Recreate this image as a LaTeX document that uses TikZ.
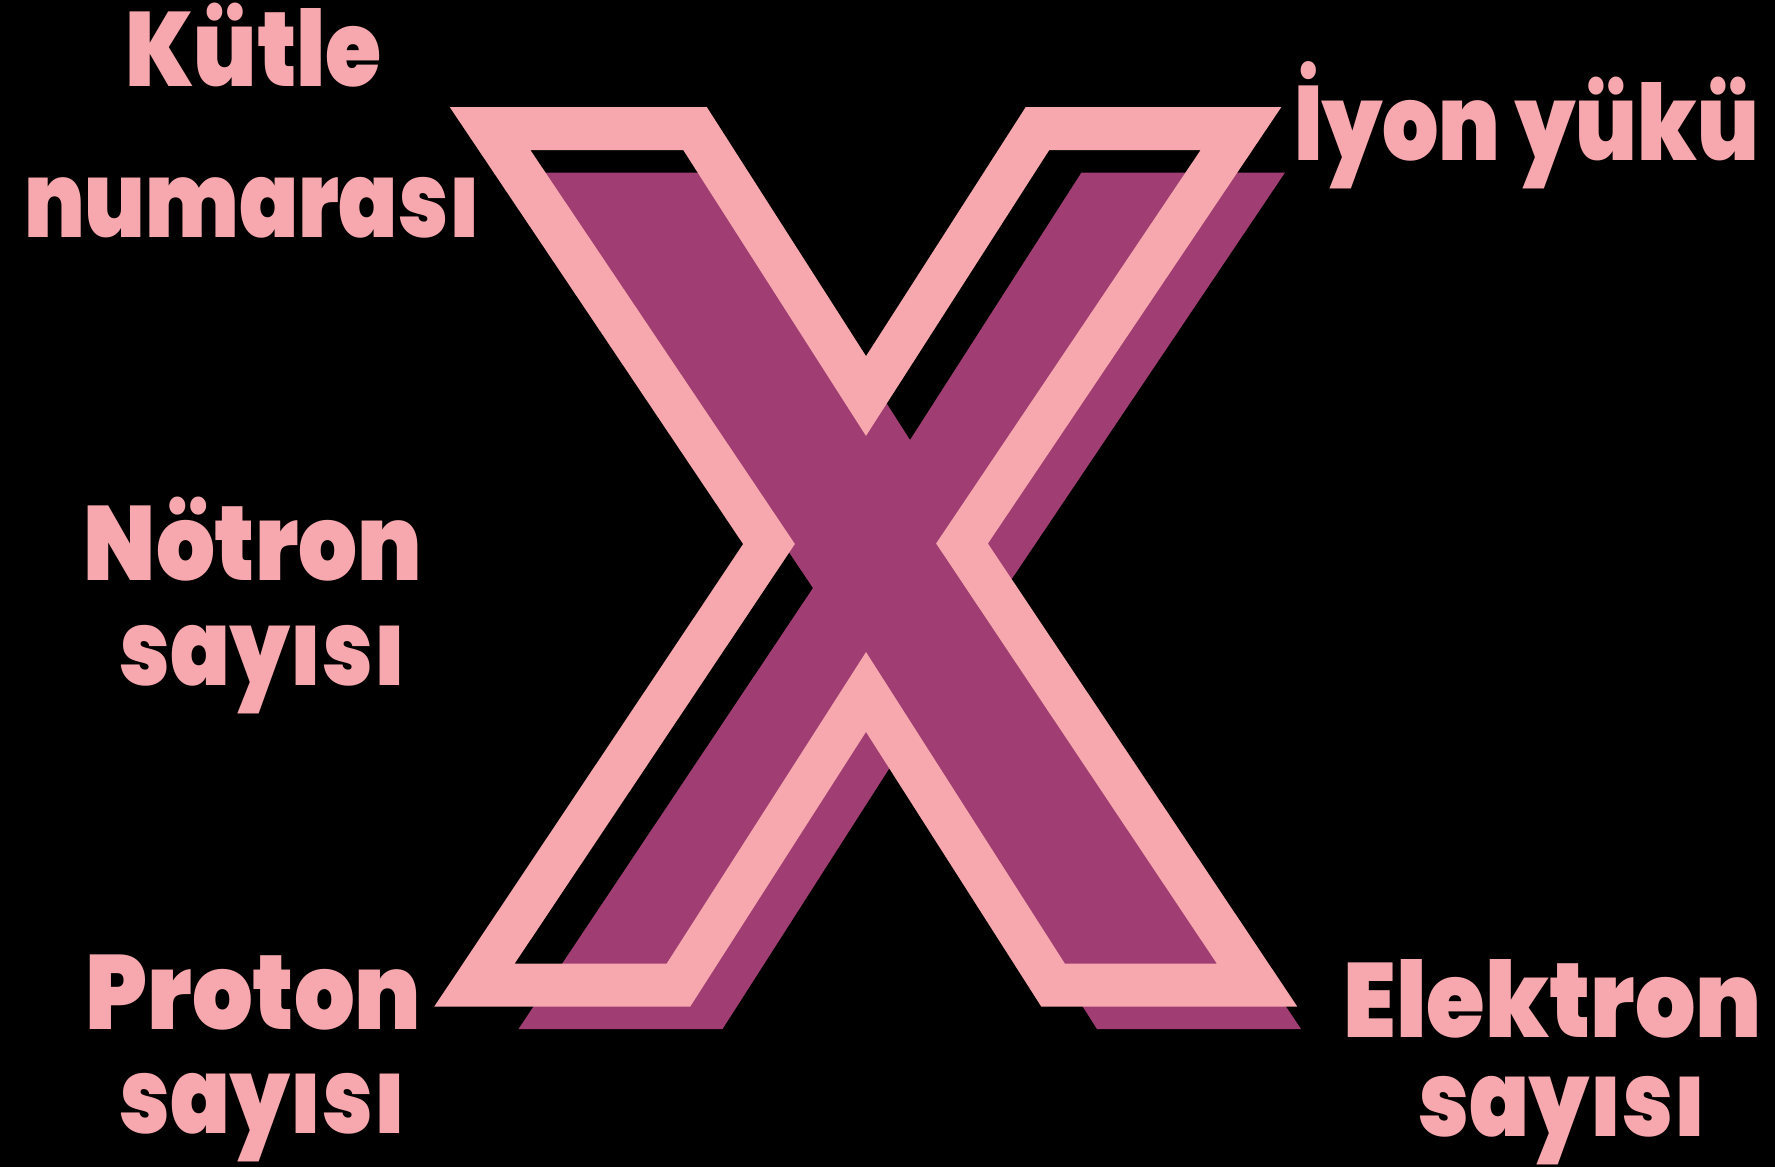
\documentclass[tikz,border=0pt]{standalone}
\usepackage{graphicx}
\usepackage{fontspec}
\newfontfamily\labfont{Poppins Black}
\newcommand\sqz[2]{\scalebox{#1}[1]{#2}}
\definecolor{xpink}{RGB}{247,168,174}
\definecolor{xpurple}{RGB}{160,62,115}
\begin{document}
\begin{tikzpicture}[x=0.02cm,y=-0.02cm,
  lab/.style={text=xpink,font=\labfont\fontsize{60}{60}\selectfont,anchor=base,inner sep=0pt}]
\fill[black] (0,0) rectangle (1775,1167);
\useasboundingbox (0,0) rectangle (1775,1167);
% centerline vertices
\coordinate (A) at (490,128.5);
\coordinate (B) at (695,128.5);
\coordinate (C) at (866,396);
\coordinate (D) at (1037.5,128.5);
\coordinate (E) at (1241,128.5);
\coordinate (F) at (962,543.5);
\coordinate (G) at (1257,985);
\coordinate (H) at (1053,985);
\coordinate (I) at (866,692);
\coordinate (J) at (678.5,985);
\coordinate (K) at (474.5,985);
\coordinate (L) at (769,544);
% shadow
\fill[xpurple] ([shift={(44,44)}]A) -- ([shift={(44,44)}]B) -- ([shift={(44,44)}]C)
  -- ([shift={(44,44)}]D) -- ([shift={(44,44)}]E) -- ([shift={(44,44)}]F)
  -- ([shift={(44,44)}]G) -- ([shift={(44,44)}]H) -- ([shift={(44,44)}]I)
  -- ([shift={(44,44)}]J) -- ([shift={(44,44)}]K) -- ([shift={(44,44)}]L) -- cycle;
% outline
\draw[xpink,line width=0.86cm,line join=miter,miter limit=20] (A) -- (B) -- (C) -- (D) -- (E) -- (F) -- (G) -- (H) -- (I) -- (J) -- (K) -- (L) -- cycle;
% labels
\node[lab] (k1) at (253.5,86) {\sqz{0.862}{Kütle}};
\node[lab] (k2) at (252.5,237) {\sqz{0.826}{numarası}};
\node[lab] (n1) at (253,580) {\sqz{0.879}{Nötron}};
\node[lab] (n2) at (263,685) {\sqz{0.833}{sayısı}};
\node[lab] (p1) at (253.5,1029) {\sqz{0.905}{Proton}};
\node[lab] (p2) at (263,1133) {\sqz{0.833}{sayısı}};
\node[lab] (i1) at (1526.5,160) {\sqz{0.84}{İyon yükü}};
\node[lab] (e1) at (1552.5,1037) {\sqz{0.90}{Elektron}};
\node[lab] (e2) at (1562.5,1136) {\sqz{0.836}{sayısı}};
\end{tikzpicture}
\end{document}
